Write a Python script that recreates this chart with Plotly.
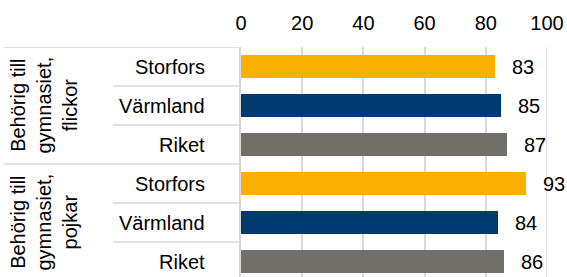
import plotly.graph_objects as go

groups = ["Behörig till<br>gymnasiet,<br>flickor", "Behörig till<br>gymnasiet,<br>pojkar"]
regions = ["Storfors", "Värmland", "Riket"]
values_flickor = [83, 85, 87]
values_pojkar = [93, 84, 86]
colors = {"Storfors": "#F9B000", "Värmland": "#003A70", "Riket": "#706F6A"}
x_ticks = [0, 20, 40, 60, 80, 100]

W, H = 567, 277
ML, MR, MT, MB = 241, 20, 47, 0
plot_w = W - ML - MR
ROW_PX = 39.0
plot_h = H - MT - MB
FONT = "Liberation Sans, Arial, sans-serif"
FS = 20

labels = regions + regions
vals = values_flickor + values_pojkar
ypos = list(range(len(vals)))

fig = go.Figure()
fig.add_trace(go.Bar(
    x=vals, y=ypos, orientation="h",
    marker=dict(color=[colors[r] for r in labels], line=dict(width=0)),
    width=0.59, showlegend=False, hoverinfo="skip",
))

def px_to_paper_x(px):
    return (px - ML) / plot_w

annotations = []
for yi, (lab, v) in enumerate(zip(labels, vals)):
    annotations.append(dict(x=v, y=yi, xref="x", yref="y", text=str(v), showarrow=False,
                            xanchor="left", xshift=15, font=dict(size=FS, color="#000000", family=FONT)))
    annotations.append(dict(x=px_to_paper_x(207), y=yi, xref="paper", yref="y", text=lab, showarrow=False,
                            xanchor="right", font=dict(size=FS, color="#000000", family=FONT)))
for gi, g in enumerate(groups):
    annotations.append(dict(x=px_to_paper_x(43), y=gi * 3 + 1, xref="paper", yref="y", text=g, showarrow=False,
                            xanchor="center", yanchor="middle", textangle=-90,
                            font=dict(size=FS, color="#000000", family=FONT)))

shapes = []
line_style = dict(color="#D9D9D9", width=1.5)
for b in range(len(vals)):
    yb = b - 0.5
    x0 = 4 if b % 3 == 0 else 113
    shapes.append(dict(type="line", xref="paper", yref="y", x0=px_to_paper_x(x0), x1=0,
                       y0=yb, y1=yb, line=line_style, layer="above"))
shapes.append(dict(type="line", xref="x", yref="paper", x0=100, x1=100, y0=0, y1=1, line=line_style, layer="below"))

y_bottom = -0.5 + plot_h / ROW_PX

fig.update_layout(
    width=W, height=H,
    margin=dict(l=ML, r=MR, t=MT, b=MB, pad=0),
    paper_bgcolor="white", plot_bgcolor="white",
    font=dict(family=FONT, size=FS, color="#000000"),
    xaxis=dict(side="top", range=[0, 100], tickvals=x_ticks, ticktext=[str(t) for t in x_ticks],
               showgrid=True, gridcolor="#D9D9D9", gridwidth=1.5, zeroline=False, showline=False,
               ticks="", ticklabelstandoff=12, tickfont=dict(size=FS, color="#000000", family=FONT),
               fixedrange=True),
    yaxis=dict(range=[y_bottom, -0.5], showticklabels=False, showgrid=False, zeroline=False,
               showline=True, linecolor="#D9D9D9", linewidth=1.5, ticks="", fixedrange=True),
    annotations=annotations, shapes=shapes, bargap=0,
)

fig.write_html("out.html", post_script="document.body.style.margin='0';document.body.style.overflow='hidden';",
               config={"displayModeBar": False})
